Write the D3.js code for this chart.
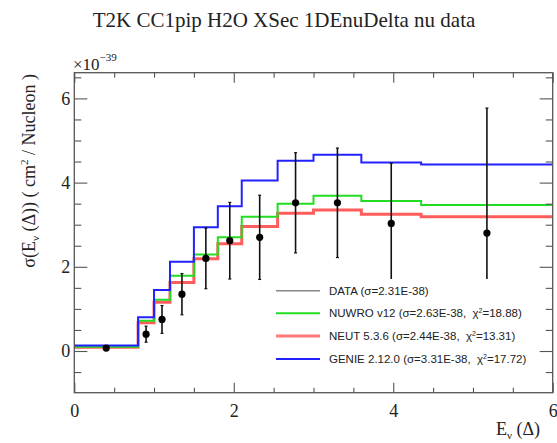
<!DOCTYPE html>
<html>
<head>
<meta charset="utf-8">
<script src="https://cdn.jsdelivr.net/npm/d3@7"></script>
<style>
  html, body { margin: 0; padding: 0; background: #fff; }
  svg { display: block; }
  text { white-space: pre; }
  .serif { font-family: "Liberation Serif", "DejaVu Serif", serif; }
  .sans { font-family: "Liberation Sans", Arial, sans-serif; }
</style>
</head>
<body>
<svg id="chart" width="557" height="443"></svg>
<script>
// Bin edges in E_nu (Delta), GeV
const binEdges = [0, 0.8, 1.0, 1.2, 1.5, 1.8, 2.1, 2.55, 3.0, 3.6, 4.35, 6.0];

// Measured cross section (x1e-39 cm^2 / nucleon) and its errors
const dataValues = [0.07, 0.40, 0.75, 1.35, 2.20, 2.62, 2.70, 3.52, 3.52, 3.03, 2.80];
const dataErrors = [0.02, 0.19, 0.33, 0.49, 0.72, 0.91, 1.00, 1.19, 1.30, 1.43, 2.97];

// Generator predictions (same units)
const nuwroValues = [0.10, 0.72, 1.22, 1.79, 2.29, 2.70, 3.19, 3.50, 3.69, 3.56, 3.47];
const neutValues  = [0.09, 0.67, 1.16, 1.63, 2.19, 2.55, 2.96, 3.27, 3.35, 3.25, 3.19];
const genieValues = [0.13, 0.80, 1.45, 2.12, 2.94, 3.44, 4.05, 4.52, 4.66, 4.48, 4.43];

// Axis ticks
const xMajorTicks = [0, 2, 4, 6];
const yMajorTicks = [0, 2, 4, 6];

// Legend entries
const legendLabels = [
  "DATA (σ=2.31E-38)",
  "NUWRO v12 (σ=2.63E-38,  χ²=18.88)",
  "NEUT 5.3.6 (σ=2.44E-38,  χ²=13.31)",
  "GENIE 2.12.0 (σ=3.31E-38,  χ²=17.72)"
];

const svg = d3.select("#chart");
const frame = { left: 74.3, right: 552.7, top: 72.7, bottom: 392.7 };

const x = d3.scaleLinear().domain([0, 6]).range([frame.left, frame.right]);
const y = d3.scaleLinear().domain([-0.99, 6.61]).range([frame.bottom, frame.top]);

const xMinorTicks = d3.range(0, 6.001, 0.5).filter(v => !xMajorTicks.includes(v));
const yMinorTicks = d3.range(-0.5, 6.51, 0.5).filter(v => !yMajorTicks.includes(v));

const axisColor = "#555";

// Title
svg.append("text")
  .attr("class", "serif")
  .attr("x", 284).attr("y", 27)
  .attr("text-anchor", "middle")
  .attr("font-size", 21)
  .attr("fill", "#222")
  .text("T2K CC1pip H2O XSec 1DEnuDelta nu data");

// Histograms drawn as step lines
const stepLine = d3.line()
  .x(d => x(d[0]))
  .y(d => y(d[1]))
  .curve(d3.curveStepAfter);

function stepPoints(values) {
  const pts = values.map((v, i) => [binEdges[i], v]);
  pts.push([binEdges[binEdges.length - 1], values[values.length - 1]]);
  return pts;
}

const series = [
  { values: neutValues,  color: "#ff4040", width: 3.0, opacity: 0.85 },
  { values: nuwroValues, color: "#22dd22", width: 2.0, opacity: 1 },
  { values: genieValues, color: "#2222ff", width: 2.0, opacity: 1 }
];

const plot = svg.append("g");
series.forEach(s => {
  plot.append("path")
    .datum(stepPoints(s.values))
    .attr("d", stepLine)
    .attr("fill", "none")
    .attr("stroke", s.color)
    .attr("stroke-width", s.width)
    .attr("stroke-opacity", s.opacity);
});

// Data points with error bars
const centers = dataValues.map((v, i) => (binEdges[i] + binEdges[i + 1]) / 2);
const pts = plot.append("g").selectAll("g")
  .data(dataValues.map((v, i) => ({ c: centers[i], v, e: dataErrors[i] })))
  .join("g");

pts.append("line")
  .attr("x1", d => x(d.c)).attr("x2", d => x(d.c))
  .attr("y1", d => y(d.v + d.e)).attr("y2", d => y(d.v - d.e))
  .attr("stroke", "#111").attr("stroke-width", 1.6);
pts.append("line")
  .attr("x1", d => x(d.c) - 1.5).attr("x2", d => x(d.c) + 1.5)
  .attr("y1", d => y(d.v + d.e)).attr("y2", d => y(d.v + d.e))
  .attr("stroke", "#111").attr("stroke-width", 1.2);
pts.append("line")
  .attr("x1", d => x(d.c) - 1.5).attr("x2", d => x(d.c) + 1.5)
  .attr("y1", d => y(d.v - d.e)).attr("y2", d => y(d.v - d.e))
  .attr("stroke", "#111").attr("stroke-width", 1.2);
pts.append("circle")
  .attr("cx", d => x(d.c)).attr("cy", d => y(d.v))
  .attr("r", 3.6)
  .attr("fill", "#000");

// Legend box (white fill, covers what lies beneath)
const legend = svg.append("g");
legend.append("rect")
  .attr("x", 266).attr("y", 279)
  .attr("width", 270).attr("height", 92)
  .attr("fill", "#fff");

const legendStyles = [
  { color: "#888", width: 1.5, opacity: 1 },
  { color: "#22dd22", width: 2.0, opacity: 1 },
  { color: "#ff4040", width: 3.0, opacity: 0.7 },
  { color: "#2222ff", width: 2.0, opacity: 1 }
];
const legendY = [290.7, 313.3, 335.9, 359.0];

legendLabels.forEach((label, i) => {
  legend.append("line")
    .attr("x1", 276).attr("x2", 320)
    .attr("y1", legendY[i]).attr("y2", legendY[i])
    .attr("stroke", legendStyles[i].color)
    .attr("stroke-width", legendStyles[i].width)
    .attr("stroke-opacity", legendStyles[i].opacity);
  const t = legend.append("text")
    .attr("class", "sans")
    .attr("xml:space", "preserve")
    .attr("x", 329).attr("y", legendY[i] + 4)
    .attr("font-size", 11.5)
    .attr("fill", "#222");
  // split chi-square superscript
  const parts = label.split("²");
  if (parts.length === 2) {
    t.append("tspan").text(parts[0]);
    t.append("tspan").attr("dy", -4).attr("font-size", 7).text("2");
    t.append("tspan").attr("dy", 4).text(parts[1]);
  } else {
    t.text(label);
  }
});

// Frame
svg.append("rect")
  .attr("x", frame.left).attr("y", frame.top)
  .attr("width", frame.right - frame.left)
  .attr("height", frame.bottom - frame.top)
  .attr("fill", "none")
  .attr("stroke", axisColor)
  .attr("stroke-width", 1.3);

// Axes: ticks drawn inward on all four sides
function addAxis(axisFn, scale, ticks, size, transform, labels) {
  const g = svg.append("g")
    .attr("transform", transform)
    .call(axisFn(scale).tickValues(ticks).tickSize(size)
      .tickPadding(labels ? 9 : 0)
      .tickFormat(labels ? d3.format("d") : () => ""));
  g.select(".domain").remove();
  g.selectAll(".tick line").attr("stroke", axisColor).attr("stroke-width", 1.1);
  g.selectAll(".tick text")
    .attr("class", "serif")
    .attr("font-size", 18)
    .attr("fill", "#222");
  return g;
}

// bottom
const gx = addAxis(d3.axisBottom, x, xMajorTicks, -10, `translate(0,${frame.bottom})`, true);
gx.selectAll(".tick text").attr("y", 12).attr("dy", "0.71em");
addAxis(d3.axisBottom, x, xMinorTicks, -5, `translate(0,${frame.bottom})`, false);
// top
addAxis(d3.axisTop, x, xMajorTicks, -10, `translate(0,${frame.top})`, false);
addAxis(d3.axisTop, x, xMinorTicks, -5, `translate(0,${frame.top})`, false);
// left
const gy = addAxis(d3.axisLeft, y, yMajorTicks, -13, `translate(${frame.left},0)`, true);
gy.selectAll(".tick text").attr("x", -4).attr("dy", "0.33em");
addAxis(d3.axisLeft, y, yMinorTicks, -7, `translate(${frame.left},0)`, false);
// right
addAxis(d3.axisRight, y, yMajorTicks, -13, `translate(${frame.right},0)`, false);
addAxis(d3.axisRight, y, yMinorTicks, -7, `translate(${frame.right},0)`, false);

// Exponent label
const expo = svg.append("text")
  .attr("class", "serif")
  .attr("x", 73).attr("y", 70)
  .attr("font-size", 17)
  .attr("fill", "#222");
expo.append("tspan").text("×10");
expo.append("tspan").attr("dy", -9).attr("font-size", 11).text("−39");

// X axis title
const xt = svg.append("text")
  .attr("class", "serif")
  .attr("x", 540).attr("y", 435)
  .attr("text-anchor", "end")
  .attr("font-size", 18)
  .attr("fill", "#222");
xt.append("tspan").text("E");
xt.append("tspan").attr("dy", 4).attr("font-size", 11).text("ν");
xt.append("tspan").attr("dy", -4).text(" (Δ)");

// Y axis title
const yt = svg.append("text")
  .attr("class", "serif")
  .attr("transform", "translate(35,74) rotate(-90)")
  .attr("text-anchor", "end")
  .attr("font-size", 18)
  .attr("fill", "#222");
yt.append("tspan").text("σ(E");
yt.append("tspan").attr("dy", 4).attr("font-size", 11).text("ν");
yt.append("tspan").attr("dy", -4).text(" (Δ)) ( cm");
yt.append("tspan").attr("dy", -7).attr("font-size", 11).text("2");
yt.append("tspan").attr("dy", 7).text(" / Nucleon )");
</script>
</body>
</html>
